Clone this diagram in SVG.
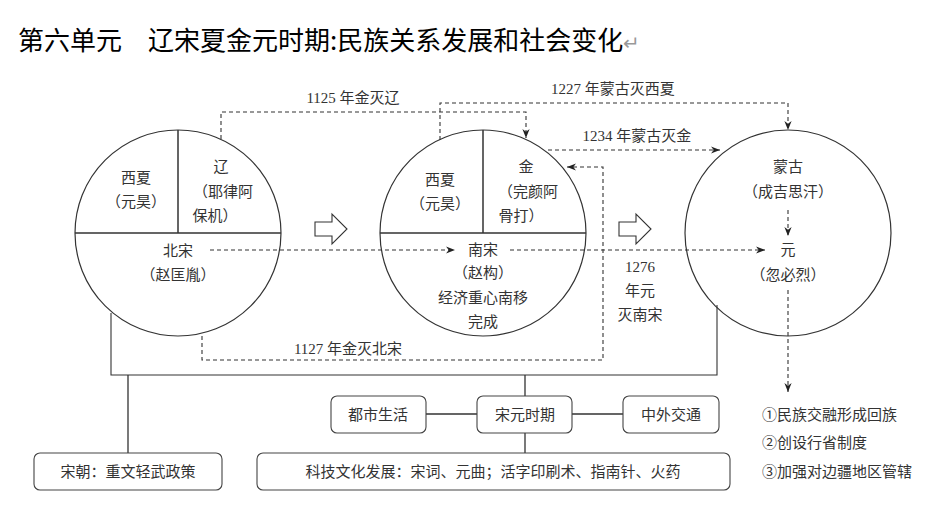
<svg xmlns="http://www.w3.org/2000/svg" width="942" height="511" viewBox="0 0 942 511">
<defs>
<marker id="ah" viewBox="0 0 10 10" refX="10" refY="5" markerWidth="9" markerHeight="9" orient="auto" markerUnits="userSpaceOnUse"><path d="M0,1 L10,5 L0,9 L3,5 Z" fill="#222"/></marker>
<style>
text{font-family:"Noto Sans CJK SC","Liberation Serif",serif;fill:#333;text-anchor:middle}
.t{font-size:15px}
.c{fill:none;stroke:#333;stroke-width:1.2}
.s{stroke:#333;stroke-width:1.5;fill:none}
.d{stroke:#333;stroke-width:1.1;fill:none;stroke-dasharray:4,3}
.b{fill:#fff;stroke:#444;stroke-width:1.1}
.yr{font-family:"Liberation Serif","Noto Sans CJK SC",serif;font-size:15px}
</style>
</defs>
<rect width="942" height="511" fill="#fff"/>
<text x="18" y="50" style="text-anchor:start;font-size:26px;fill:#000">第六单元　辽宋夏金元时期:民族关系发展和社会变化<tspan style="fill:#999;font-size:20px">↵</tspan></text>

<g id="connectors">
<path class="s" d="M111,313 V375 H717 V305" style="stroke-width:1.1"/>
<path class="s" d="M128,375 V453 M525,375 V396 M525,433 V453 M426,414 H477 M572,414 H623" style="stroke-width:1.3"/>
<path class="d" d="M221,139 V112 H526 V138" marker-end="url(#ah)"/>
<path class="d" d="M440,140 V103 H788 V130" marker-end="url(#ah)"/>
<path class="d" d="M548,150 H720" marker-end="url(#ah)"/>
<path class="d" d="M202,336 V360 H603 V167 H567" marker-end="url(#ah)"/>
<path class="d" d="M210,250 H455" marker-end="url(#ah)"/>
<path class="d" d="M510,250 H765" marker-end="url(#ah)"/>
<path class="d" d="M788,210 V236" marker-end="url(#ah)"/>
<path class="d" d="M788,290 V392" marker-end="url(#ah)"/>
<path d="M315,222 H332 V214 L347,229 L332,244 V236 H315 Z" fill="#fff" stroke="#333" stroke-width="1.1"/>
<path d="M619,222 H636 V214 L651,229 L636,244 V236 H619 Z" fill="#fff" stroke="#333" stroke-width="1.1"/>
<text class="yr" x="353" y="103">1125 年金灭辽</text>
<text class="yr" x="613" y="94">1227 年蒙古灭西夏</text>
<text class="yr" x="637" y="141">1234 年蒙古灭金</text>
<text class="yr" x="348" y="354">1127 年金灭北宋</text>
<text class="yr" x="640" y="272">1276</text>
<text class="yr" x="640" y="296">年元</text>
<text class="yr" x="640" y="320">灭南宋</text>
</g>

<g id="circle1">
<circle class="c" cx="178" cy="233" r="103"/>
<path class="s" d="M75,233 H281 M178,130 V233"/>
<text class="t" x="136" y="183">西夏</text>
<text class="t" x="136" y="207">（元昊）</text>
<text class="t" x="221" y="172">辽</text>
<text class="t" x="223" y="197">（耶律阿</text>
<text class="t" x="215" y="221">保机）</text>
<text class="t" x="178" y="256">北宋</text>
<text class="t" x="178" y="280">（赵匡胤）</text>
</g>

<g id="circle2">
<circle class="c" cx="483" cy="233" r="103"/>
<path class="s" d="M380,233 H586 M483,130 V233"/>
<text class="t" x="440" y="185">西夏</text>
<text class="t" x="440" y="209">（元昊）</text>
<text class="t" x="526" y="172">金</text>
<text class="t" x="528" y="197">（完颜阿</text>
<text class="t" x="521" y="221">骨打）</text>
<text class="t" x="483" y="255">南宋</text>
<text class="t" x="483" y="278">（赵构）</text>
<text class="t" x="483" y="303">经济重心南移</text>
<text class="t" x="483" y="327">完成</text>
</g>

<g id="circle3">
<circle class="c" cx="788" cy="233" r="103"/>
<text class="t" x="788" y="172">蒙古</text>
<text class="t" x="788" y="197">（成吉思汗）</text>
<text class="t" x="788" y="255">元</text>
<text class="t" x="788" y="280">（忽必烈）</text>
</g>

<g id="dushi"><rect class="b" x="331" y="396" width="95" height="37" rx="6"/><text class="t" x="378" y="420">都市生活</text></g>
<g id="songyuan"><rect class="b" x="477" y="396" width="95" height="37" rx="6"/><text class="t" x="525" y="420">宋元时期</text></g>
<g id="zhongwai"><rect class="b" x="623" y="396" width="96" height="37" rx="6"/><text class="t" x="671" y="420">中外交通</text></g>
<g id="songchao"><rect class="b" x="34" y="453" width="188" height="37" rx="6"/><text class="t" x="128" y="477">宋朝：重文轻武政策</text></g>
<g id="keji"><rect class="b" x="257" y="453" width="473" height="37" rx="6"/><text class="t" x="493" y="477">科技文化发展：宋词、元曲；活字印刷术、指南针、火药</text></g>
<g id="yuanlist">
<text class="t" x="762" y="420" style="text-anchor:start">①民族交融形成回族</text>
<text class="t" x="762" y="448" style="text-anchor:start">②创设行省制度</text>
<text class="t" x="762" y="477" style="text-anchor:start">③加强对边疆地区管辖</text>
</g>
</svg>
